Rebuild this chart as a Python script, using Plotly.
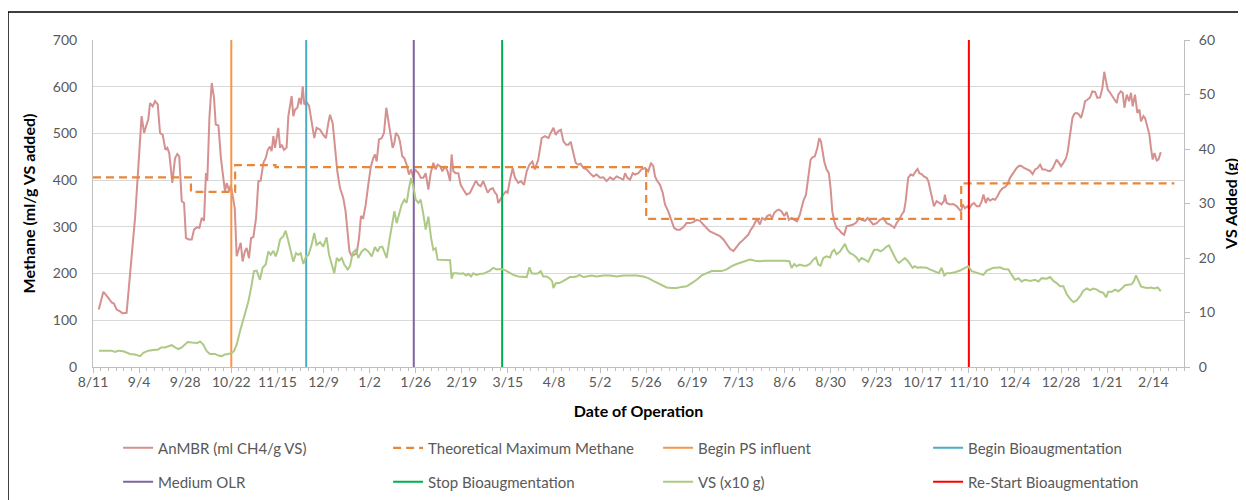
import pandas as pd
import plotly.graph_objects as go

# day 0 = first day of the date axis
START = pd.Timestamp('2012-08-11')

# AnMBR methane yield (ml CH4/g VS)
anmbr_day = [3, 5.4, 8, 9.7, 10.9, 12.3, 14.1, 15.4, 17.5, 19.3, 21.9, 25.3, 26.6, 27.6, 28.8, 29.7, 31.1, 32.3, 33.7,
             34.9, 36.3, 37.7, 38.7, 39.7, 41.3, 42.7, 43.9, 44.9, 46.2, 47.4, 48.4, 50, 51.4, 52.6, 54, 55.4, 56.6,
             57.8, 58.8, 59.5, 60.6, 61.8, 63, 63.9, 65.3, 66.6, 67.9, 68.7, 69.6, 71, 71.7, 72.7, 73.8, 74.8, 76,
             76.9, 77.9, 79.1, 80, 81.2, 82.3, 83.5, 84.9, 86.1, 87.3, 88.7, 89.9, 91, 92.1, 93, 93.9, 94.8, 95.6,
             96.5, 97.4, 98.2, 99.4, 100.8, 101.7, 102.6, 103.4, 104.3, 105.2, 106.4, 107.4, 108.3, 109.2, 110,
             111.2, 112.5, 113.8, 115.2, 116.4, 118.2, 119.9, 121.3, 122.5, 123.4, 124.8, 126, 127.2, 128.6, 130.3,
             131.5, 132.6, 133.5, 134.7, 136.1, 137.3, 138.5, 139.5, 140.7, 142, 143.3, 144.7, 145.9, 146.8, 147.7,
             148.9, 150.3, 151.5, 152.7, 153.8, 155, 156, 156.9, 157.7, 159, 159.8, 161, 162.1, 163.3, 164.5, 165.6,
             166.8, 167.6, 169.4, 170.6, 172, 173.2, 174.6, 175.8, 177.2, 178.4, 179.4, 180.7, 181.9, 183.3, 184.6,
             185.9, 186.7, 187.6, 188.8, 190.2, 191.4, 192.8, 194.5, 196.3, 198, 199.4, 200.6, 201.8, 203.2, 204.1,
             205.5, 206.7, 208.1, 209.3, 210.2, 211, 212.4, 213.6, 215, 215.9, 217.1, 218.5, 219.7, 221.4, 222.8,
             224.4, 225.8, 227.2, 228.7, 230.1, 231.8, 233.6, 235.3, 237.1, 238.3, 239.7, 240.9, 242.3, 243.6,
             244.9, 246.3, 247.5, 248.7, 250.1, 251.3, 252.7, 253.9, 255.3, 257, 258.7, 260.5, 262.2, 264, 265.7,
             267.4, 269.2, 270.9, 272.6, 274.4, 276.1, 277, 278.2, 279.6, 281, 282.2, 283.9, 285.6, 287.4, 289.1,
             290.5, 291.7, 292.6, 293.8, 295.2, 296.6, 297.8, 299.5, 301.3, 302.5, 303.9, 305.6, 307.3, 309, 310.8,
             312.5, 314.3, 316, 317.7, 319.5, 321.2, 322.9, 324.7, 326.4, 328.2, 329.9, 331.6, 333.4, 335.1, 336.8,
             337.7, 339.4, 341.1, 342.5, 343.7, 345, 346, 347.2, 348.4, 349.8, 351, 352.4, 353.6, 354.7, 355.9,
             357.1, 358.5, 359.9, 361.1, 362.3, 363.7, 365.1, 366.5, 368, 369.8, 371.2, 372.4, 373.6, 374.6, 375.8,
             377.1, 378.1, 379, 379.8, 380.7, 381.9, 383.1, 384, 384.9, 385.9, 387.1, 388.3, 389.7, 391.1, 392.3,
             394.1, 395.8, 397.5, 398.8, 400.1, 401.9, 403.3, 404.5, 406.2, 408, 409.7, 411.4, 413.2, 414.9, 417.2,
             418.4, 419.6, 421, 422.2, 423.1, 424.4, 425.7, 427, 428.3, 429.3, 430.2, 431.4, 432.6, 434, 434.9,
             436.1, 436.9, 437.8, 439.2, 440.4, 441.8, 443, 443.5, 444.4, 446.1, 447.9, 449.7, 451.1, 451.9, 452.8,
             454, 455.2, 456.3, 457.5, 458.7, 460.1, 461.5, 462.7, 463.6, 464.8, 465.8, 467, 468.4, 469.6, 470.8,
             472.2, 473.6, 474.8, 476, 477.4, 478.6, 479.7, 480.9, 482.3, 483.5, 484.7, 486.1, 487.9, 489.2, 490.5,
             491.8, 493.1, 494.3, 495.7, 497.1, 498.3, 499.7, 500.9, 501.7, 502.9, 504, 505.2, 506.6, 507.5, 508.7,
             509.9, 510.9, 512.1, 513.4, 514.4, 515.6, 516.5, 517.7, 519.1, 520.3, 521.7, 522.9, 524.3, 525.5,
             526.5, 527.4, 528.3, 529.5, 530.7, 531.8, 533, 533.8, 535.1, 536.1, 537, 538.2, 539.4, 540.4, 541.3,
             542.5, 543.7, 544.8, 545.6, 546.9, 547.7, 548.9, 550, 550.8, 551.7, 552.6, 553.8, 554.7, 555.9]
anmbr = [123, 161, 148, 138, 136, 123, 119, 115, 116, 205, 319, 537, 501, 515, 530, 565, 558, 569, 562,
         501, 497, 465, 469, 458, 394, 447, 456, 451, 355, 351, 276, 273, 273, 294, 299, 298, 319,
         313, 415, 398, 533, 608, 576, 519, 517, 447, 405, 376, 394, 376, 390, 369, 340, 237, 255,
         266, 226, 248, 255, 233, 276, 278, 319, 398, 399, 437, 447, 465, 472, 462, 494, 469, 490,
         512, 469, 476, 465, 470, 537, 558, 580, 537, 551, 555, 576, 562, 601, 562,
         567, 559, 522, 490, 512, 508, 497, 490, 522, 540, 522, 469, 419, 383, 362,
         333, 290, 248, 237, 240, 244, 276, 323, 319, 348, 390, 430, 447, 455, 440,
         487, 490, 501, 555, 526, 490, 469, 480, 501, 494, 483, 451, 447, 433, 412, 423,
         405, 423, 415, 405, 405, 415, 380, 415, 437, 423, 433, 430, 419, 430, 419,
         398, 455, 419, 415, 415, 390, 380, 369, 373, 387, 399, 390, 387, 398, 387,
         373, 380, 383, 373, 369, 351, 362, 369, 376, 373, 401, 426, 405, 394, 398,
         390, 419, 433, 440, 423, 444, 490, 494, 490, 501, 512, 497, 505, 508,
         483, 476, 476, 482, 455, 437, 433, 435, 426, 423, 415, 408, 412, 405, 406,
         398, 406, 401, 408, 405, 401, 415, 405, 401, 415, 412, 415, 423, 426, 419,
         437, 430, 408, 398, 390, 373, 348, 333, 312, 298, 294, 294, 299, 308, 308,
         310, 315, 313, 305, 298, 290, 287, 283, 280, 273, 262, 253, 248, 258, 266,
         269, 276, 283, 294, 301, 312, 315, 305, 319, 315, 323, 326, 319, 330, 335,
         337, 333, 323, 332, 315, 319, 315, 312, 326, 355, 369, 405, 444, 449, 451,
         469, 490, 483, 458, 440, 423, 415, 383, 333, 312, 298, 294, 287, 283, 301,
         303, 305, 310, 319, 315, 313, 319, 313, 305, 308, 315, 319, 308, 305, 298,
         308, 315, 326, 333, 355, 405, 412, 410, 419, 424, 415, 413, 408, 405, 398,
         373, 358, 344, 355, 351, 348, 355, 369, 351, 348, 349, 344, 337, 333, 348,
         340, 344, 339, 348, 351, 344, 344, 355, 369, 351, 362, 356, 360, 358, 365,
         376, 383, 385, 390, 405, 412, 419, 426, 431, 430, 426, 424, 420, 413, 423,
         426, 433, 423, 423, 420, 419, 426, 435, 444, 437, 430, 437, 447, 462, 497,
         533, 542, 544, 540, 533, 551, 569, 572, 577, 590, 589, 576, 577, 597,
         632, 612, 594, 587, 580, 572, 565, 583, 590, 587, 555, 583, 569, 587, 558,
         583, 544, 551, 526, 537, 533, 515, 497, 469, 444, 458, 442, 444, 460]

# VS added (g), right axis
vs_day = [3.1, 6.2, 9.7, 11.5, 13.2, 15.8, 17.5, 19.3, 21.9, 24.5, 26.2, 28.8, 31.4, 34, 35.4, 37.5, 39.2, 41,
          42.7, 44.4, 46.2, 47.9, 49.3, 51.4, 53.1, 54.3, 55.7, 57.4, 59.2, 60.9, 63.5, 65.3, 67, 68.7, 70.5,
          72.2, 73.4, 74.8, 76.5, 77.9, 79.1, 80.9, 82.3, 83.8, 85.2, 86.9, 88.3, 89.9, 91.3, 92.5, 93.9, 95.1,
          96.1, 97.4, 99.1, 100.3, 101.7, 103.1, 104.3, 105.7, 106.9, 108.1, 109.5, 110.9, 112.1, 113.8, 115.2,
          116.4, 118.2, 119.9, 121.6, 122.9, 124.3, 125.6, 126.9, 128.1, 129.5, 130.8, 132.6, 133.8, 135.2,
          136.8, 138.1, 139.9, 141.6, 143.3, 145.1, 146.8, 148.2, 149.4, 150.6, 152, 152.9, 154.1, 155.5, 156.9,
          158.1, 159.5, 160.7, 162.1, 163.3, 164.5, 165.6, 166.8, 168, 169.4, 170.6, 172, 173.2, 174.6, 176,
          177.2, 178.4, 179.4, 181.5, 184.1, 185.9, 186.7, 187.6, 189.3, 191.1, 192.8, 194.2, 195.4, 196.8, 198,
          199.7, 201.5, 203.2, 205, 206.7, 208.4, 210.2, 211.9, 213.6, 215.4, 217.1, 218.8, 221.4, 224.4, 225.8,
          227.2, 228.4, 230.1, 231.8, 233.1, 234.4, 236.2, 237.9, 239.1, 239.7, 241, 242.8, 244.9, 246.6, 248.3,
          250.1, 251.8, 253.2, 255.3, 257, 259.6, 262.2, 265.7, 269.2, 272.6, 276.1, 279.6, 283, 286.5, 289.1,
          291.7, 294.3, 296.6, 298.7, 301.3, 303.9, 306.5, 309.1, 311.7, 314.3, 316.9, 319.5, 322.1, 324.7,
          327.3, 329.9, 332.5, 335.1, 336.8, 339.4, 342, 344.6, 347.2, 349.8, 352.4, 355, 357.6, 360.2, 362.5,
          363.7, 365.1, 366.3, 368, 369.8, 371.5, 373.2, 375, 376.4, 377.6, 378.8, 380.2, 381.9, 383.7, 384.9,
          385.9, 387.1, 388.9, 390.1, 391.5, 392.7, 394.1, 395.8, 397.5, 398.8, 400.1, 401.9, 403.6, 405.4,
          406.7, 408.5, 410, 411.4, 412.8, 414.4, 415.8, 417.2, 418.4, 419.6, 421, 422.7, 424.1, 425.3, 426.7,
          427.9, 429.3, 430.5, 432.3, 434, 435.7, 437.5, 439.2, 440.4, 441.8, 443.2, 444.4, 446.1, 448.8, 451.4,
          454, 455.7, 457.5, 459.2, 461.8, 463.6, 465.3, 467, 468.8, 470.5, 472.2, 474, 476.6, 478.3, 480, 481.8,
          483.5, 485.2, 487.9, 490.5, 492.2, 493.9, 496.5, 498.3, 500, 501.7, 503.5, 505.2, 506.9, 508.7, 510.4,
          512.1, 513.9, 515.6, 517.4, 519.1, 520.8, 522.6, 524.3, 526, 527.4, 528.6, 530.4, 532.1, 533.8, 535.6,
          537.3, 539, 540.8, 542, 543, 544.3, 545.6, 547.4, 549.1, 550.8, 552.6, 554.3, 555.9]
vs_added = [3.0, 3.0, 3.0, 2.75, 3.0, 2.9, 2.6, 2.4, 2.3, 2.0, 2.6, 3.0, 3.1, 3.2, 3.6, 3.6, 3.8, 4.0,
            3.6, 3.3, 3.6, 4.2, 4.6, 4.5, 4.5, 4.4, 4.7, 4.1, 2.9, 2.4, 2.4, 2.1, 2.0, 2.3, 2.4,
            2.6, 2.9, 4.1, 6.5, 8.4, 9.6, 12.0, 14.5, 17.6, 17.7, 16.0, 18.2, 18.8, 21.2, 20.6, 21.3, 20.3,
            21.3, 23.4, 24.0, 25.0, 23.1, 20.9, 19.3, 20.9, 20.6, 20.9, 18.9, 20.3, 20.5, 22.4, 24.6,
            22.4, 22.9, 22.1, 23.8, 20.6, 18.8, 17.2, 20.0, 19.5, 20.0, 18.8, 17.9, 18.5, 20.9,
            21.5, 20.0, 21.2, 21.7, 21.2, 20.3, 22.0, 21.2, 22.0, 22.1, 20.6, 20.0, 22.8, 26.1, 28.6,
            26.4, 28.0, 29.8, 30.7, 30.1, 32.8, 34.7, 33.1, 30.7, 30.1, 30.7, 28.0, 25.2, 27.6, 23.7,
            21.5, 21.8, 19.7, 19.7, 19.7, 19.6, 16.2, 17.2, 17.2, 17.1, 17.2, 16.8, 17.1, 16.6, 17.2,
            16.9, 17.1, 17.1, 17.4, 17.7, 18.2, 17.9, 18.0, 17.9, 17.6, 17.2, 16.9, 16.6, 16.6, 16.5,
            18.3, 17.2, 17.1, 17.2, 17.6, 16.6, 16.6, 16.2, 15.7, 14.5, 15.4, 15.4, 15.8, 16.2, 16.5,
            16.5, 16.6, 16.9, 16.5, 16.6, 16.8, 16.6, 16.8, 16.8, 16.6, 16.8, 16.8, 16.8, 16.6, 16.3,
            15.8, 15.4, 15.0, 14.6, 14.5, 14.5, 14.7, 14.8, 15.4, 16.0, 16.8, 17.2, 17.6, 17.6,
            17.6, 17.9, 18.5, 18.9, 19.1, 19.5, 19.7, 19.5, 19.4, 19.5, 19.5, 19.6, 19.5, 19.5, 19.4,
            18.2, 18.9, 18.5, 18.8, 18.6, 18.6, 18.9, 19.7, 20.1, 18.8, 18.6, 20.0, 20.3, 20.1, 21.2,
            21.5, 20.7, 21.2, 21.8, 22.6, 21.5, 20.9, 20.6, 20.1, 19.4, 20.0, 19.7, 19.3, 20.6,
            21.5, 21.5, 21.2, 21.5, 22.0, 22.3, 21.3, 20.6, 19.5, 19.1, 19.5, 20.0, 19.5, 18.8, 18.2,
            18.5, 18.2, 18.3, 18.2, 18.2, 17.9, 17.6, 17.4, 17.2, 18.2, 16.8, 17.2, 17.2, 17.4, 17.7,
            18.2, 18.5, 17.6, 17.4, 17.2, 16.9, 17.7, 18.0, 18.2, 18.2, 18.3, 18.0, 17.9, 16.9, 16.0, 16.3,
            15.7, 16.0, 15.8, 16.0, 15.7, 16.3, 16.2, 16.5, 15.8, 15.4, 14.8, 14.8, 13.4, 12.5, 11.9,
            12.2, 13.0, 14.0, 14.4, 14.1, 14.4, 14.2, 13.8, 13.6, 12.8, 13.8, 13.8, 14.2, 13.9, 14.4,
            15.0, 15.1, 15.2, 15.8, 16.8, 15.8, 14.8, 14.6, 14.5, 14.6, 14.4, 14.6, 13.9]

# theoretical maximum methane, held constant between change points
theo_day = [0, 51, 74, 95, 288, 452, 563]
theo_max = [406, 375, 432, 428, 317, 393, 393]

# operational events
event_names = ['Begin PS influent', 'Begin Bioaugmentation', 'Medium OLR',
               'Stop Bioaugmentation', 'Re-Start Bioaugmentation']
event_day = [72, 111, 167, 213, 456]
event_colors = ['#F79646', '#4BACC6', '#8064A2', '#00B050', '#FF0000']
event_legend = ['legend', 'legend', 'legend2', 'legend2', 'legend2']


def to_date(days):
    return START + pd.to_timedelta(pd.Series(days, dtype=float), unit='D')


fig = go.Figure()

fig.add_trace(go.Scatter(x=to_date(anmbr_day), y=anmbr, mode='lines', name='AnMBR (ml CH4/g VS)',
                         line=dict(color='#D4918F', width=2), legend='legend'))
fig.add_trace(go.Scatter(x=to_date(theo_day), y=theo_max, mode='lines', name='Theoretical Maximum Methane',
                         line=dict(color='#E8873A', width=2.2, dash='8px,5px', shape='hv'), legend='legend'))

for name, day, color, leg in zip(event_names, event_day, event_colors, event_legend):
    if name == 'Re-Start Bioaugmentation':
        # VS goes between Stop and Re-Start in the legend
        fig.add_trace(go.Scatter(x=to_date(vs_day), y=vs_added, mode='lines', name='VS (x10 g)',
                                 line=dict(color='#ADC985', width=2), yaxis='y2', legend='legend2'))
    fig.add_trace(go.Scatter(x=to_date([day, day]), y=[0, 700], mode='lines', name=name,
                             line=dict(color=color, width=2), legend=leg))

tick_font = dict(family='Lato', size=14, color='#595959')
title_font = dict(family='Lato', size=16, color='#000000', weight='bold')
legend_font = dict(family='Lato', size=15, color='#595959')
day_ms = 86400000

# the page puts the figure 8px in from the top-left corner, so the figure is 8px smaller
fig.update_layout(
    width=1238, height=492,
    margin=dict(l=85, r=62, t=32, b=133, autoexpand=False),
    paper_bgcolor='white', plot_bgcolor='white',
    font=dict(family='Lato', size=14, color='#595959'),
    xaxis=dict(type='date', range=[START, START + pd.Timedelta(days=568)],
               tick0=START, dtick=24 * day_ms, tickformat='%-m/%-d',
               ticks='outside', ticklen=5, tickcolor='#BFBFBF', tickfont=tick_font, ticklabelstandoff=-3,
               showline=True, linecolor='#BFBFBF', linewidth=1, showgrid=False, zeroline=False,
               minor=dict(tick0=START, dtick=4 * day_ms, ticks='outside', ticklen=3,
                          tickcolor='#BFBFBF', showgrid=False),
               title=dict(text='Date of Operation', font=title_font, standoff=17)),
    yaxis=dict(range=[0, 700], dtick=100, showgrid=True, gridcolor='#D9D9D9', gridwidth=1,
               showline=True, linecolor='#BFBFBF', zeroline=False, ticks='',
               tickfont=tick_font, ticklabelstandoff=12,
               title=dict(text='Methane (ml/g VS added)', font=title_font, standoff=13)),
    yaxis2=dict(range=[0, 60], dtick=10, overlaying='y', side='right', showgrid=False,
                showline=True, linecolor='#BFBFBF', zeroline=False, ticks='outside', ticklen=5,
                tickcolor='#BFBFBF', tickfont=tick_font, ticklabelstandoff=6,
                title=dict(text='VS Added (g)', font=title_font, standoff=11)),
    legend=dict(orientation='h', x=0.023, xanchor='left', y=-0.248, yanchor='middle',
                entrywidth=225, entrywidthmode='pixels', font=legend_font,
                bgcolor='rgba(0,0,0,0)', traceorder='normal'),
    legend2=dict(orientation='h', x=0.023, xanchor='left', y=-0.352, yanchor='middle',
                 entrywidth=225, entrywidthmode='pixels', font=legend_font,
                 bgcolor='rgba(0,0,0,0)', traceorder='normal'),
    showlegend=True,
)

# outer chart border (partly cut off in the original picture)
fig.add_shape(type='rect', xref='paper', yref='paper',
              x0=-85 / 1091, x1=1250 / 1091,
              y0=-150 / 327, y1=(359 - 4) / 327,
              line=dict(color='black', width=1.5), fillcolor='rgba(0,0,0,0)', layer='below')

fig.write_html("out.html")
